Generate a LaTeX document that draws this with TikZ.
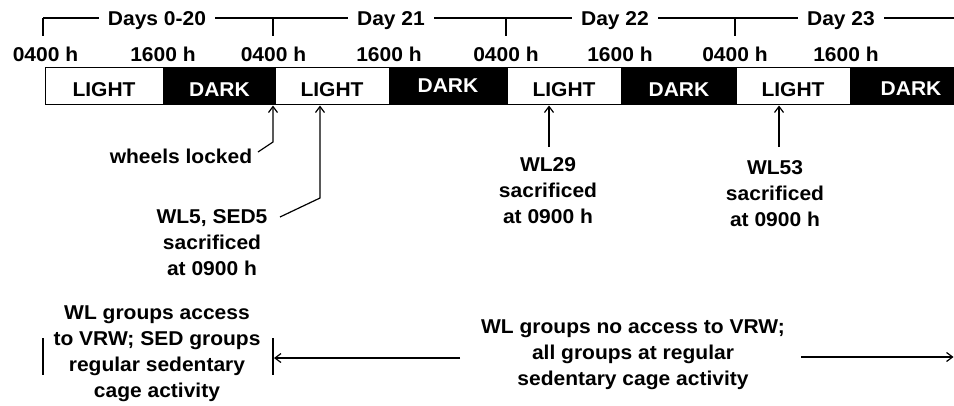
\documentclass[tikz,border=0pt]{standalone}
\usepackage{fontspec}
\setmainfont{Liberation Sans}[FakeStretch=1.05]
\usetikzlibrary{arrows.meta}
\begin{document}
\begin{tikzpicture}[x=1pt,y=-1pt,
  every node/.style={font=\fontsize{20}{26}\selectfont\bfseries, inner sep=0pt},
  ln/.style={line width=1.2pt},
  arr/.style={line width=1.2pt,-{Straight Barb[length=6pt,width=9pt]}},
  cell/.style={draw=black, line width=1.3pt, anchor=north west, minimum height=37pt},
  lightcell/.style={cell, fill=white},
  darkcell/.style={cell, fill=black},
  txt/.style={anchor=base},
  wtxt/.style={anchor=base, text=white},
  daylbl/.style={anchor=base, fill=white, inner xsep=9pt, inner ysep=2pt},
  multi/.style={anchor=base, align=center}]
\useasboundingbox (0,0) rectangle (954,405);

% top bracket
\coordinate (bL) at (43,18);
\coordinate (bR) at (960,18);
\draw[ln] (bL) -- (bR);
\foreach \x/\n in {43/k1,273/k2,506/k3,735/k4}{
  \coordinate (\n t) at (\x,18);
  \coordinate (\n b) at (\x,36);
  \draw[ln] (\n t) -- (\n b);
}
\node[daylbl] (d0) at (157,25.5) {Days 0-20};
\node[daylbl] (d21) at (391,25.5) {Day 21};
\node[daylbl] (d22) at (615,25.5) {Day 22};
\node[daylbl] (d23) at (841,25.5) {Day 23};

% hour labels
\node[txt] (h1) at (45.5,61) {0400 h};
\node[txt] (h2) at (163,61) {1600 h};
\node[txt] (h3) at (273.5,61) {0400 h};
\node[txt] (h4) at (389,61) {1600 h};
\node[txt] (h5) at (506,61) {0400 h};
\node[txt] (h6) at (620,61) {1600 h};
\node[txt] (h7) at (735,61) {0400 h};
\node[txt] (h8) at (846,61) {1600 h};

% light/dark bar
\node[lightcell, minimum width=118pt] (c1) at (45,67) {};
\node[darkcell, minimum width=112pt] (c2) at (163,67) {};
\node[lightcell, minimum width=114pt] (c3) at (275,67) {};
\node[darkcell, minimum width=118pt] (c4) at (389,67) {};
\node[lightcell, minimum width=114pt] (c5) at (507,67) {};
\node[darkcell, minimum width=115pt] (c6) at (621,67) {};
\node[lightcell, minimum width=114pt] (c7) at (736,67) {};
\node[darkcell, minimum width=110pt] (c8) at (850,67) {};
\node[txt] (l1) at (104,96) {LIGHT};
\node[wtxt] (l2) at (219.5,96) {DARK};
\node[txt] (l3) at (332,96) {LIGHT};
\node[wtxt] (l4) at (448,92.5) {DARK};
\node[txt] (l5) at (564,96) {LIGHT};
\node[wtxt] (l6) at (679,96) {DARK};
\node[txt] (l7) at (793,96) {LIGHT};
\node[wtxt] (l8) at (911,95.5) {DARK};

% event annotations
\node[txt] (wk) at (181,163) {wheels locked};
\coordinate (wk1) at (258,152);
\coordinate (wk2) at (273,142);
\coordinate (wk3) at (273,105.5);
\draw[arr] (wk1) -- (wk2) -- (wk3);

\node[multi] (s5) at (212,275) {WL5, SED5\\sacrificed\\at 0900 h};
\coordinate (s51) at (280,217);
\coordinate (s52) at (320,198);
\coordinate (s53) at (320,105.5);
\draw[arr] (s51) -- (s52) -- (s53);

\node[multi] (s29) at (548,223) {WL29\\sacrificed\\at 0900 h};
\coordinate (s291) at (549,147);
\coordinate (s292) at (549,105.5);
\draw[arr] (s291) -- (s292);

\node[multi] (s53n) at (775,226.5) {WL53\\sacrificed\\at 0900 h};
\coordinate (s531) at (779,147);
\coordinate (s532) at (779,105.5);
\draw[arr] (s531) -- (s532);

% bottom phases
\node[multi] (p1) at (157,397) {WL groups access\\to VRW; SED groups\\regular sedentary\\cage activity};
\coordinate (pa) at (43,338);
\coordinate (pb) at (43,375);
\coordinate (pc) at (273,338);
\coordinate (pd) at (273,375);
\draw[ln] (pa) -- (pb);
\draw[ln] (pc) -- (pd);

\node[multi] (p2) at (633,385.5) {WL groups no access to VRW;\\all groups at regular\\sedentary cage activity};
\coordinate (q1) at (460,358);
\coordinate (q2) at (274,358);
\coordinate (q3) at (801,357);
\coordinate (q4) at (953.5,357);
\draw[arr] (q1) -- (q2);
\draw[arr] (q3) -- (q4);
\end{tikzpicture}
\end{document}
